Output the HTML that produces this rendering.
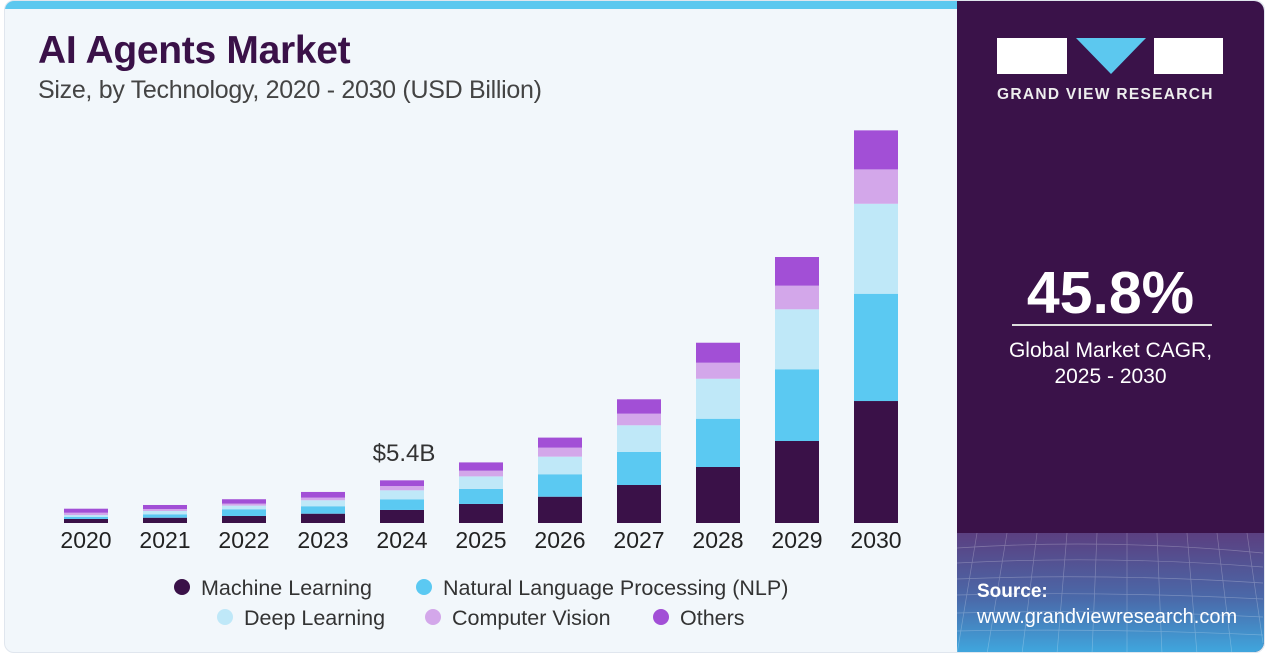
<!DOCTYPE html>
<html><head><meta charset="utf-8"><style>
body{margin:0;width:1280px;height:653px;background:#fff;overflow:hidden;font-family:"Liberation Sans",sans-serif;position:relative}
#card{position:absolute;left:4px;top:0;width:1259px;height:651px;background:#f2f7fb;border:1px solid #e0e6ee;border-radius:10px;overflow:hidden}
#stripe{position:absolute;left:0;top:0;width:955px;height:8px;background:#5cc8ef}
#panel{position:absolute;left:952px;top:0;width:307px;height:651px;background:#3a1249;border-radius:0 10px 10px 0;overflow:hidden}
#wave{position:absolute;left:0;top:532px;width:307px;height:121px;background:linear-gradient(#5b3f80,#4a6aaa 55%,#3fa8df)}
.t{position:absolute;white-space:nowrap}
</style></head><body>
<div id="card">
<div id="stripe"></div>
<div class="t" style="left:33px;top:28px;font-size:39px;font-weight:bold;color:#3a1148;letter-spacing:-0.3px">AI Agents Market</div>
<div class="t" style="left:33px;top:75px;font-size:25px;color:#444;letter-spacing:-0.3px">Size, by Technology, 2020 - 2030 (USD Billion)</div>
<svg id="chart" width="950" height="651" style="position:absolute;left:-5px;top:0"></svg>
<div id="panel">
<div id="wave">
<svg width="307" height="121" style="opacity:.25">
<g stroke="#fff" stroke-width="0.7" fill="none">
<path d="M0 15 Q150 5 306 20"/><path d="M0 30 Q150 22 306 34"/><path d="M0 46 Q150 40 306 50"/><path d="M0 62 Q150 58 306 66"/><path d="M0 80 Q150 76 306 84"/><path d="M0 98 Q150 95 306 102"/>
<path d="M20 0 L0 121"/><path d="M50 0 L30 121"/><path d="M80 0 L65 121"/><path d="M110 0 L100 121"/><path d="M140 0 L135 121"/><path d="M170 0 L170 121"/><path d="M200 0 L205 121"/><path d="M230 0 L240 121"/><path d="M260 0 L275 121"/><path d="M290 0 L306 110"/>
</g></svg>
</div>
<div style="position:absolute;left:40px;top:37px;width:226px;height:70px">
<div style="position:absolute;left:0;top:0;width:70px;height:36px;background:#fff"></div>
<div style="position:absolute;left:79px;top:0;width:0;height:0;border-left:35px solid transparent;border-right:35px solid transparent;border-top:36px solid #5cc8ef"></div>
<div style="position:absolute;left:157px;top:0;width:69px;height:36px;background:#fff"></div>
<div class="t" style="left:0;top:48px;font-size:15.5px;font-weight:bold;color:#eee;letter-spacing:1.3px">GRAND VIEW RESEARCH</div>
</div>
<div class="t" style="left:0;width:307px;text-align:center;top:258px;font-size:59px;font-weight:bold;color:#fff">45.8%</div>
<div style="position:absolute;left:55px;top:323px;width:200px;height:2px;background:#ddd"></div>
<div class="t" style="left:0;width:307px;text-align:center;top:337px;font-size:21px;line-height:26px;color:#fff">Global Market CAGR,<br>2025 - 2030</div>
<div class="t" style="left:20px;top:580px;font-size:19px;font-weight:bold;color:#fff">Source:</div>
<div class="t" style="left:20px;top:605px;font-size:20px;color:#fff">www.grandviewresearch.com</div>
</div>
</div>
<script>
const years=["2020","2021","2022","2023","2024","2025","2026","2027","2028","2029","2030"];
const seriesNames=["Machine Learning","Natural Language Processing (NLP)","Deep Learning","Computer Vision","Others"];
const ml=[0.51,0.67,0.89,1.18,1.65,2.41,3.33,4.81,7.09,10.38,15.44];
const nlp=[0.25,0.43,0.85,0.94,1.35,1.90,2.84,4.18,6.11,9.08,13.58];
const dl=[0.25,0.42,0.46,0.76,1.14,1.59,2.23,3.38,5.06,7.59,11.39];
const cv=[0.29,0.25,0.25,0.33,0.54,0.72,1.14,1.47,2.03,2.99,4.35];
const others=[0.51,0.51,0.56,0.72,0.72,1.05,1.27,1.82,2.53,3.63,4.94];
const annotation={year:"2024",label:"$5.4B"};
const colors=["#3a1148","#5bc9f2","#bfe8f8","#d3a7ea","#a24fd6"];
const series=[ml,nlp,dl,cv,others];
const NS="http://www.w3.org/2000/svg";
const svg=document.getElementById('chart');
const base=522, pxPerB=7.9, x0=86, step=79, bw=44;
const xs=i=>x0+i*step;
const ys=v=>v*pxPerB;
function mk(t,a){const e=document.createElementNS(NS,t);for(const k in a)e.setAttribute(k,a[k]);svg.appendChild(e);return e;}
years.forEach((yr,i)=>{
  let acc=0;
  series.forEach((s,j)=>{
    const h=ys(s[i]);
    const r=mk('rect',{x:xs(i)-bw/2,y:base-ys(acc)-h,width:bw,height:h,fill:colors[j]});
    
    
    acc+=s[i];
  });
  const t=mk('text',{x:xs(i),y:547,'text-anchor':'middle','font-size':23,fill:'#222'});
  t.textContent=yr;
  
  
  if(yr===annotation.year){
    const a=mk('text',{x:xs(i)+2,y:460,'text-anchor':'middle','font-size':24,fill:'#333'});
    a.textContent=annotation.label;
    
    
  }
});
const legendPos=[[182,586],[424,586],[225,616],[433,616],[661,616]];
seriesNames.forEach((n,j)=>{
  const c=mk('circle',{cx:legendPos[j][0],cy:legendPos[j][1],r:8,fill:colors[j]});
  
  
  const t=mk('text',{x:legendPos[j][0]+19,y:legendPos[j][1]+8,'font-size':21.5,fill:'#333'});
  t.textContent=n;
  
  
});
</script>
</body></html>
